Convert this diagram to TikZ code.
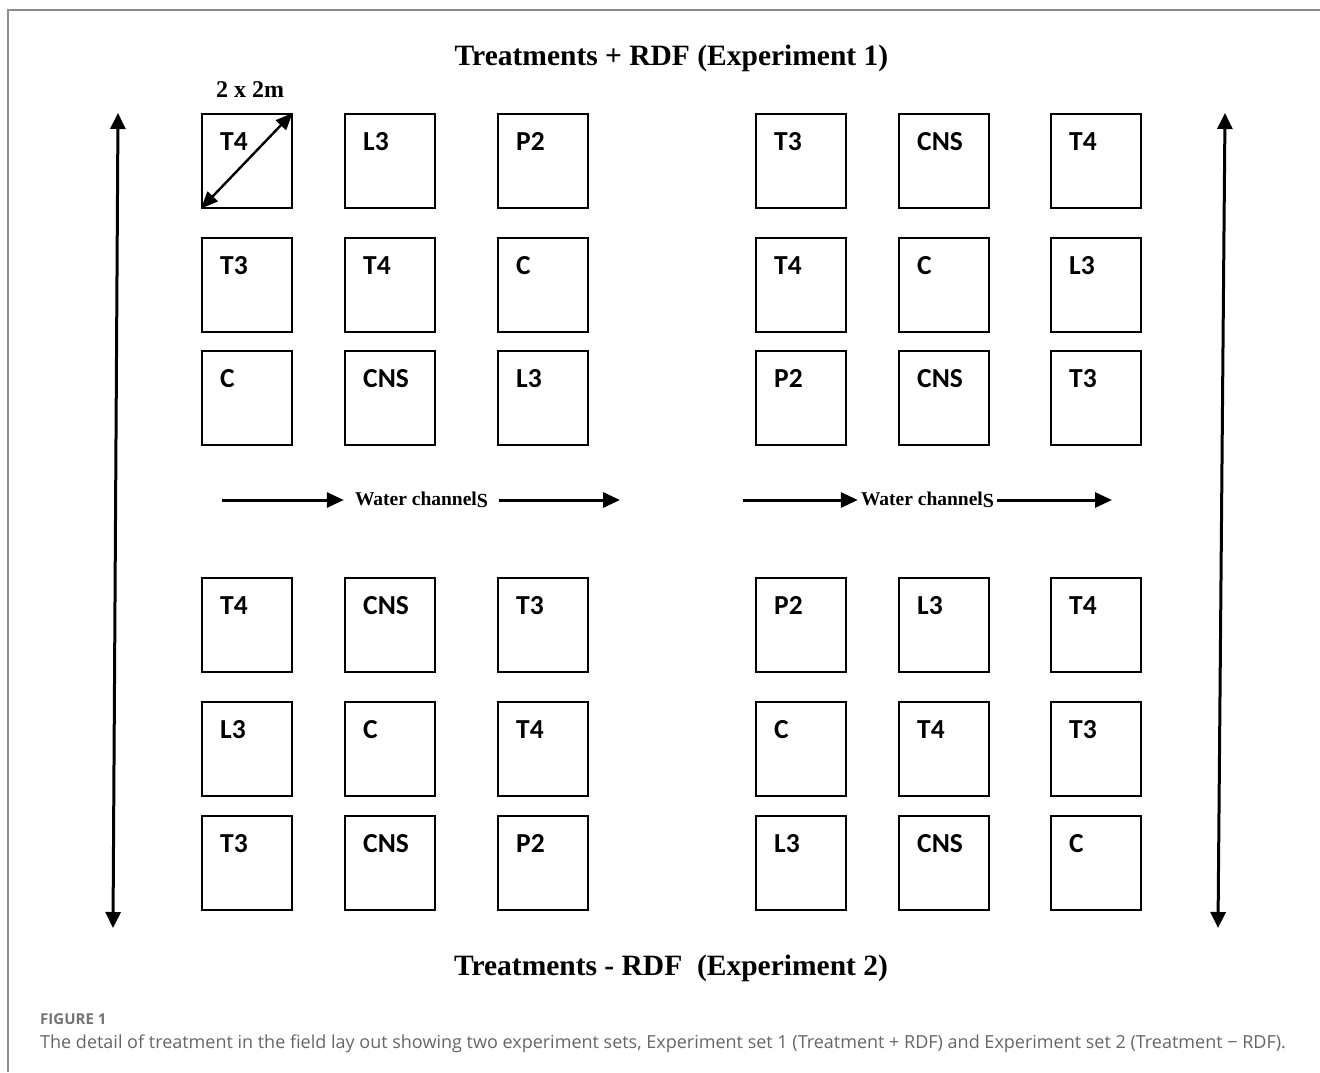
\documentclass[tikz,border=0pt]{standalone}
\usepackage{fontspec}
\setmainfont{Liberation Serif}
\newfontfamily\plotfont{Carlito}
\newfontfamily\capfont{Open Sans}
\usetikzlibrary{arrows.meta, positioning}

\begin{document}
\begin{tikzpicture}[x=1pt, y=-1pt,
        plot/.style={draw, line width=1.6pt, minimum width=90pt, minimum height=94pt,
            anchor=north west, inner sep=0pt, label={[tag]north west:#1}},
        tag/.style={anchor=base west, xshift=19pt, yshift=-37pt, inner sep=0pt,
            font=\plotfont\bfseries\fontsize{27.5}{28}\selectfont},
        heading/.style={anchor=base, inner sep=0pt, font=\bfseries\fontsize{29.5}{32}\selectfont},
        channel/.style={inner ysep=0pt, font=\bfseries\fontsize{19.5}{22}\selectfont},
        flow/.style={line width=3pt, -{Triangle[length=17pt, width=15pt]}},
        side/.style={line width=3pt, {Triangle[length=16pt, width=15pt]}-{Triangle[length=16pt, width=15pt]}}
    ]
    \useasboundingbox (0,0) rectangle (1320,1072);
    \draw[black!45, line width=1.5pt] (8,1072) |- (1320,10);

    % experiment 1 (top half)
    \node[plot=T4]  (r1c1) at (201,113) {};
    \node[plot=L3]  (r1c2) at (344,113) {};
    \node[plot=P2]  (r1c3) at (497,113) {};
    \node[plot=T3]  (r1c4) at (755,113) {};
    \node[plot=CNS] (r1c5) at (898,113) {};
    \node[plot=T4]  (r1c6) at (1050,113) {};

    \node[plot=T3]  (r2c1) at (201,237) {};
    \node[plot=T4]  (r2c2) at (344,237) {};
    \node[plot=C]   (r2c3) at (497,237) {};
    \node[plot=T4]  (r2c4) at (755,237) {};
    \node[plot=C]   (r2c5) at (898,237) {};
    \node[plot=L3]  (r2c6) at (1050,237) {};

    \node[plot=C]   (r3c1) at (201,350) {};
    \node[plot=CNS] (r3c2) at (344,350) {};
    \node[plot=L3]  (r3c3) at (497,350) {};
    \node[plot=P2]  (r3c4) at (755,350) {};
    \node[plot=CNS] (r3c5) at (898,350) {};
    \node[plot=T3]  (r3c6) at (1050,350) {};

    % experiment 2 (bottom half)
    \node[plot=T4]  (r4c1) at (201,577) {};
    \node[plot=CNS] (r4c2) at (344,577) {};
    \node[plot=T3]  (r4c3) at (497,577) {};
    \node[plot=P2]  (r4c4) at (755,577) {};
    \node[plot=L3]  (r4c5) at (898,577) {};
    \node[plot=T4]  (r4c6) at (1050,577) {};

    \node[plot=L3]  (r5c1) at (201,701) {};
    \node[plot=C]   (r5c2) at (344,701) {};
    \node[plot=T4]  (r5c3) at (497,701) {};
    \node[plot=C]   (r5c4) at (755,701) {};
    \node[plot=T4]  (r5c5) at (898,701) {};
    \node[plot=T3]  (r5c6) at (1050,701) {};

    \node[plot=T3]  (r6c1) at (201,815) {};
    \node[plot=CNS] (r6c2) at (344,815) {};
    \node[plot=P2]  (r6c3) at (497,815) {};
    \node[plot=L3]  (r6c4) at (755,815) {};
    \node[plot=CNS] (r6c5) at (898,815) {};
    \node[plot=C]   (r6c6) at (1050,815) {};

    % plot size
    \draw[line width=2.4pt, {Triangle[length=17pt, width=14pt]}-{Triangle[length=17pt, width=14pt]}]
        (r1c1.south west) -- (r1c1.north east);
    \node[anchor=base, inner sep=0pt, font=\bfseries\fontsize{24}{26}\selectfont] (size) at (250,97) {2 x 2m};

    \node[heading] (exp1) at (671.5,65) {Treatments + RDF (Experiment 1)};
    \node[heading] (exp2) at (671,975) {Treatments - RDF\ \ (Experiment 2)};

    % water channels
    \node[channel, inner xsep=11pt] (wcl) at (421.5,500) {Water channel\raisebox{-2pt}{\fontsize{20}{20}\selectfont S}};
    \node[channel, inner xsep=3pt] (wcr) at (927.5,500) {Water channel\raisebox{-2pt}{\fontsize{20}{20}\selectfont S}};
    \coordinate (wcl-in) at (222,500);
    \coordinate (wcl-out) at (620,500);
    \coordinate (wcr-in) at (743,500);
    \coordinate (wcr-out) at (1112,500);
    \draw[flow] (wcl-in) -- (wcl.west);
    \draw[flow] (wcl.east) -- (wcl-out);
    \draw[flow] (wcr-in) -- (wcr.west);
    \draw[flow] (wcr.east) -- (wcr-out);

    % field length
    \coordinate (lt) at (118,113);
    \coordinate (lb) at (113,928);
    \coordinate (rt) at (1225,113);
    \coordinate (rb) at (1218,928);
    \draw[side] (lb) -- (lt);
    \draw[side] (rb) -- (rt);

    % caption
    \node[anchor=base west, inner sep=0pt, text=black!55, font=\capfont\bfseries\fontsize{15}{18}\selectfont] (fig) at (40,1024) {FIGURE 1};
    \node[anchor=base west, inner sep=0pt, text=black!60, font=\capfont\fontsize{18}{21}\selectfont] (caption) at (40,1048)
        {The detail of treatment in the field lay out showing two experiment sets, Experiment set 1 (Treatment + RDF) and Experiment set 2 (Treatment − RDF).};
\end{tikzpicture}
\end{document}
